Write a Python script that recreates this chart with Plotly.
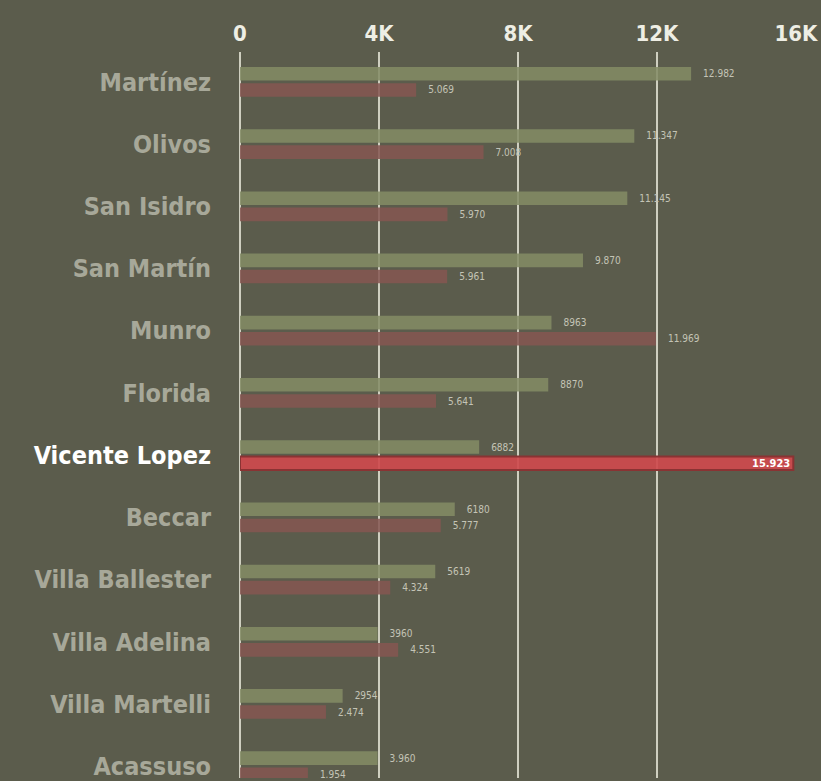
import plotly.graph_objects as go

categories = ["Martínez", "Olivos", "San Isidro", "San Martín", "Munro", "Florida",
              "Vicente Lopez", "Beccar", "Villa Ballester", "Villa Adelina",
              "Villa Martelli", "Acassuso"]
green_values = [12982, 11347, 11145, 9870, 8963, 8870, 6882, 6180, 5619, 3960, 2954, 3960]
green_labels = ["12.982", "11.347", "11.145", "9.870", "8963", "8870", "6882", "6180",
                "5619", "3960", "2954", "3.960"]
red_values = [5069, 7008, 5970, 5961, 11969, 5641, 15923, 5777, 4324, 4551, 2474, 1954]
red_labels = ["5.069", "7.008", "5.970", "5.961", "11.969", "5.641", "15.923", "5.777",
              "4.324", "4.551", "2.474", "1.954"]
highlight = "Vicente Lopez"
x_ticks = [0, 4000, 8000, 12000, 16000]
x_ticklabels = ["0", "4K", "8K", "12K", "16K"]

BG = "#5b5c4c"
FONT = "DejaVu Sans Condensed"
GREEN = "rgba(131,140,101,0.86)"
RED = "rgba(133,86,82,0.86)"
RED_HI = "rgba(206,74,78,0.93)"
PAD = "\u2002\u2002"

is_hi = [c == highlight for c in categories]

fig = go.Figure()
fig.add_trace(go.Bar(
    y=categories, x=green_values, orientation="h",
    marker=dict(color=GREEN, line=dict(width=0)),
    text=[PAD + t for t in green_labels], textposition="outside", cliponaxis=False,
    textfont=dict(family=FONT, size=10, color="#c4c4b6"),
    textangle=0, constraintext="none", hoverinfo="skip",
))
fig.add_trace(go.Bar(
    y=categories, x=red_values, orientation="h",
    marker=dict(color=[RED_HI if h else RED for h in is_hi],
                line=dict(color=["#8a3333" if h else "rgba(0,0,0,0)" for h in is_hi],
                          width=[2 if h else 0 for h in is_hi])),
    text=[("<b>%s</b>" % t) if h else PAD + t for t, h in zip(red_labels, is_hi)],
    textposition=["inside" if h else "outside" for h in is_hi],
    insidetextanchor="end", cliponaxis=False,
    textfont=dict(family=FONT, size=[11 if h else 10 for h in is_hi],
                  color=["#ffffff" if h else "#c4c4b6" for h in is_hi]),
    textangle=0, constraintext="none", hoverinfo="skip",
))

ticktext = [("<span style='color:#ffffff'>%s</span>" % c) if c == highlight else c
            for c in categories]

fig.update_layout(
    width=821, height=781,
    paper_bgcolor=BG, plot_bgcolor=BG,
    margin=dict(l=240, r=25, t=52, b=0),
    barmode="group", bargap=0.48, bargroupgap=0.16,
    showlegend=False,
    xaxis=dict(side="top", range=[0, 16000], tickvals=x_ticks, ticktext=x_ticklabels,
               showgrid=True, gridcolor="#cfcfc0", gridwidth=2,
               zeroline=True, zerolinecolor="#cfcfc0", zerolinewidth=2,
               showline=False, ticks="", ticklabelstandoff=6,
               tickfont=dict(family=FONT, size=22, color="#eeeee4", weight="bold")),
    yaxis=dict(type="category", categoryorder="array", categoryarray=categories,
               range=[11.19, -0.48], tickvals=categories, ticktext=ticktext,
               showgrid=False, zeroline=False, showline=False, ticks="",
               ticklabelstandoff=28,
               tickfont=dict(family=FONT, size=25, color="#a7a899", weight="bold")),
)

fig.write_html(
    "out.html",
    config={"displayModeBar": False},
    post_script="document.body.style.margin='0';document.body.style.background='%s';"
                "document.documentElement.style.overflow='hidden';" % BG,
)
